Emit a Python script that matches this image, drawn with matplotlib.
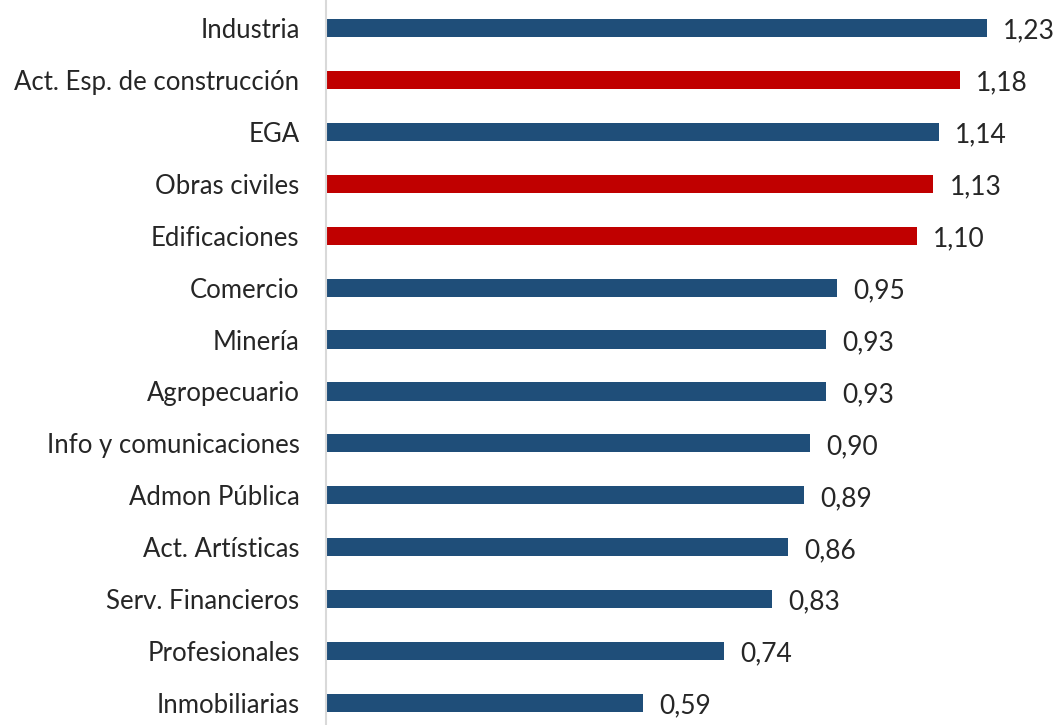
import numpy as np
import matplotlib.pyplot as plt

sectores = ["Industria", "Act. Esp. de construcción", "EGA", "Obras civiles",
            "Edificaciones", "Comercio", "Minería", "Agropecuario",
            "Info y comunicaciones", "Admon Pública", "Act. Artísticas",
            "Serv. Financieros", "Profesionales", "Inmobiliarias"]
valores = [1.23, 1.18, 1.14, 1.13, 1.10, 0.95, 0.93, 0.93, 0.90, 0.89,
           0.86, 0.83, 0.74, 0.59]
construccion = ["Act. Esp. de construcción", "Obras civiles", "Edificaciones"]

AZUL = "#1F4E79"
ROJO = "#C00000"

plt.rcParams['font.family'] = ['Lato', 'DejaVu Sans']

fig = plt.figure(figsize=(10.63, 7.25), dpi=100)
ax = fig.add_axes([326 / 1063, 0, 737 / 1063, 1])

y = np.arange(len(sectores))
colores = [ROJO if s in construccion else AZUL for s in sectores]
ax.barh(y, valores, height=0.35, color=colores)

# etiquetas de valor con coma decimal
for yi, v in zip(y, valores):
    ax.text(v + 0.03, yi + 0.06, f"{v:.2f}".replace(".", ","), va="center",
            ha="left", fontsize=19, color="#262626")

ax.set_yticks(y)
ax.set_yticklabels(sectores, fontsize=18.5, color="#262626")
ax.tick_params(axis="y", length=0, pad=19)
ax.set_xticks([])
ax.set_xlim(0, 737 / 537.5)
ax.set_ylim(13.424, -0.539)

for side in ["top", "right", "bottom"]:
    ax.spines[side].set_visible(False)
ax.spines["left"].set_color("#D9D9D9")
ax.spines["left"].set_linewidth(1.5)

fig.savefig("out.png", dpi=100)
